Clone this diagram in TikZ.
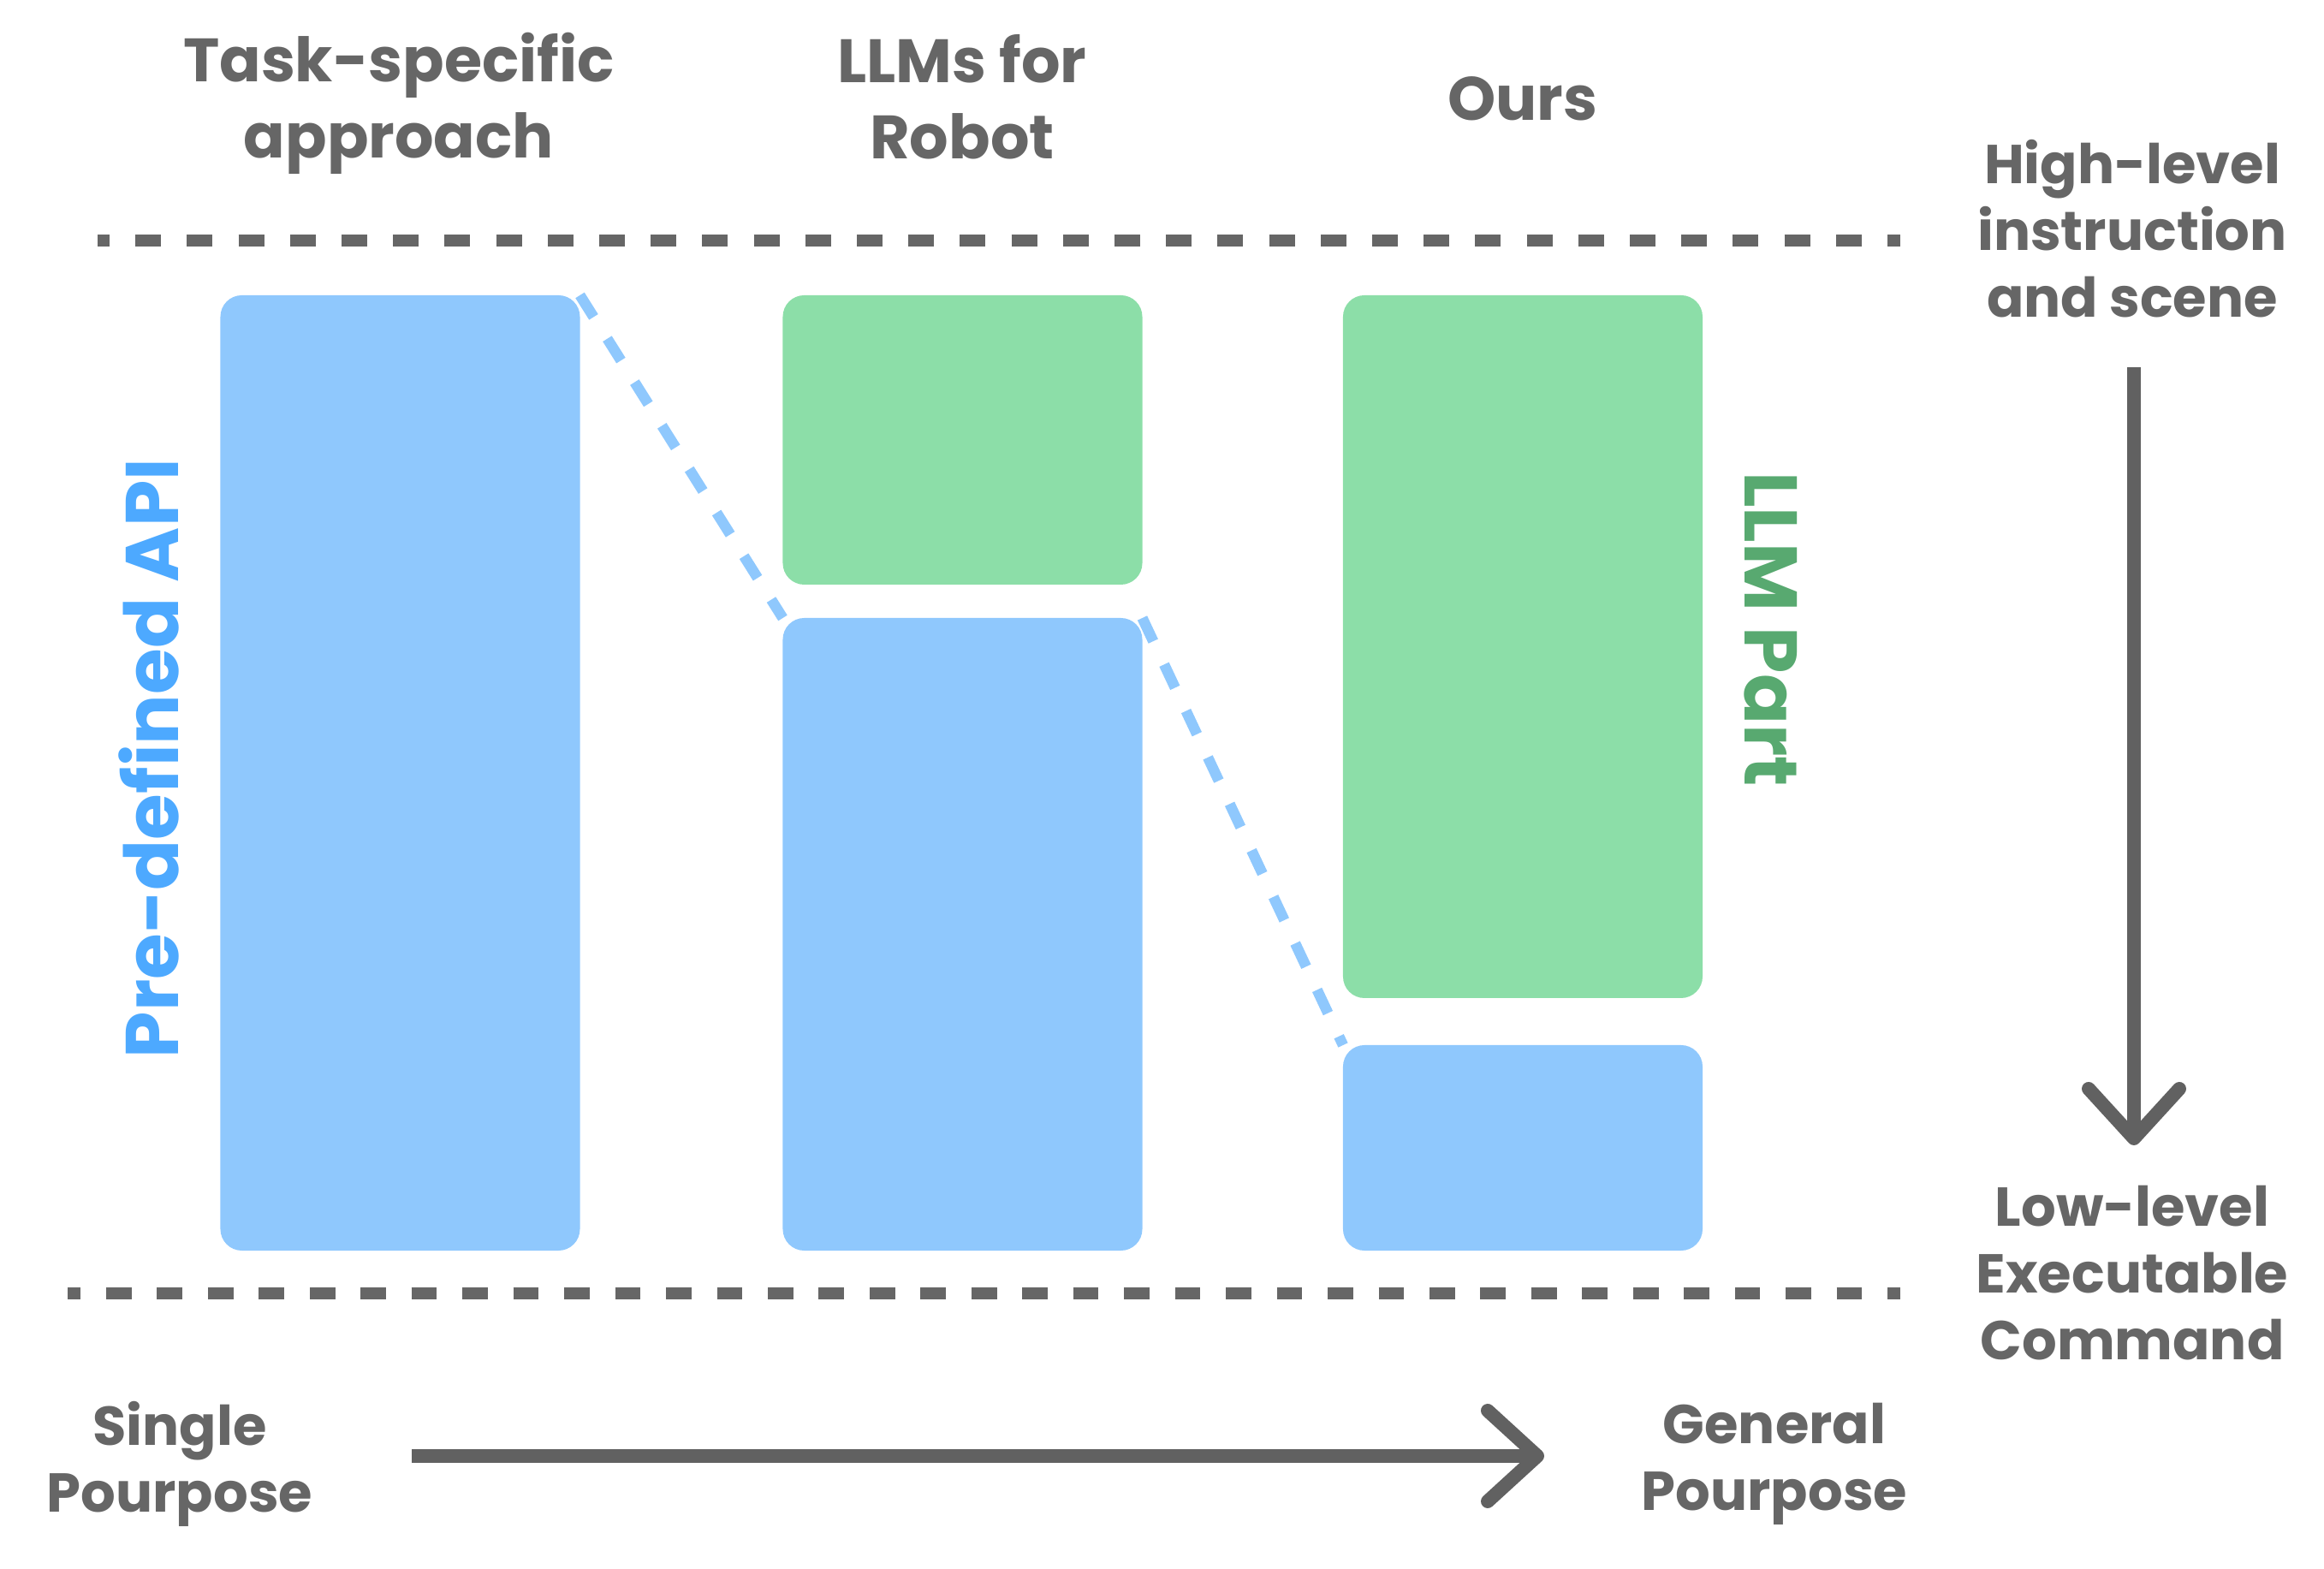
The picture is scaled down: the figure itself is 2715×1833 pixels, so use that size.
\documentclass[tikz,border=0pt]{standalone}
\usepackage{fontspec}
\setmainfont{Poppins}
\usetikzlibrary{arrows.meta,positioning}

\definecolor{apiblue}{HTML}{8FC8FD}
\definecolor{llmgreen}{HTML}{8CDEA8}
\definecolor{apitext}{HTML}{4DA9FF}
\definecolor{llmtext}{HTML}{58A970}
\definecolor{labelgray}{HTML}{666666}
\definecolor{arrowgray}{HTML}{616161}

\begin{document}
\begin{tikzpicture}[x=0.05mm,y=-0.05mm,text=labelgray]

            \tikzstyle{block}=[rounded corners=1.25mm,minimum width=21mm,inner sep=0pt,outer sep=0pt]
            \tikzstyle{api}=[block,fill=apiblue]
            \tikzstyle{llm}=[block,fill=llmgreen]
            \tikzstyle{title}=[align=center,font=\bfseries\fontsize{10.18}{12.66}\selectfont]
            \tikzstyle{side}=[align=center,font=\bfseries\fontsize{9.1}{11.1}\selectfont]
            \tikzstyle{part}=[font=\bfseries\fontsize{12.4}{14}\selectfont]
            \tikzstyle{sep}=[draw=labelgray,line width=0.72mm]
            \tikzstyle{link}=[draw=apiblue,line width=0.62mm,dash pattern=on 1.5mm off 1.5mm]
            \tikzstyle{bigarrow}=[draw=arrowgray,line width=0.8mm,-{Straight Barb[length=2.9mm,width=5.3mm,line cap=round,line join=round]}]

            \useasboundingbox (0,0) rectangle (2715,1833);

            % column headers
            \node[title] (tasktitle) at (466,121) {Task-specific\\approach};
            \node[title] (robottitle) at (1124,113) {LLMs for\\Robot};
            \node[title] (ourstitle) at (1779,115) {Ours};

            % bars
            \node[api,minimum height=55.8mm] (taskapi) at (467.5,903) {};
            \node[llm,minimum height=16.9mm] (robotllm) at (1124.5,514) {};
            \node[api,minimum height=36.95mm,below=1.95mm of robotllm] (robotapi) {};
            \node[llm,minimum height=41.05mm] (oursllm) at (1779,755.5) {};
            \node[api,minimum height=12mm,below=2.75mm of oursllm] (oursapi) {};

            \node[part,rotate=90,text=apitext] (apilabel) at (174,886) {Pre-defined API};
            \node[part,rotate=-90,text=llmtext] (llmlabel) at (2069,735) {LLM Part};

            \draw[link] (taskapi.north east) -- (robotapi.north west);
            \draw[link] (robotapi.north east) -- (oursapi.north west);

            % separators
            \coordinate (topleft) at (114,281);
            \coordinate (topright) at (2220,281);
            \coordinate (botleft) at (79,1511);
            \coordinate (botright) at (2220,1511);
            \draw[sep,dash pattern=on 1.5mm off 1.51mm,dash phase=0.8mm] (topleft) -- (topright);
            \draw[sep,dash pattern=on 1.485mm off 1.488mm,dash phase=0.725mm] (botleft) -- (botright);

            % level axis
            \node[side] (high) at (2491,267) {High-level\\instruction\\and scene};
            \node[side] (low) at (2491,1487) {Low-level\\Executable\\Command};
            \coordinate (levelstart) at (2493,429);
            \coordinate (levelend) at (2493,1338);
            \draw[bigarrow] (levelstart) -- (levelend);

            % purpose axis
            \node[side] (single) at (210,1710) {Single\\Pourpose};
            \node[side] (general) at (2073,1710) {General\\Pourpose};
            \coordinate (purposestart) at (481,1701);
            \coordinate (purposeend) at (1804,1701);
            \draw[bigarrow] (purposestart) -- (purposeend);
        \end{tikzpicture}
\end{document}
